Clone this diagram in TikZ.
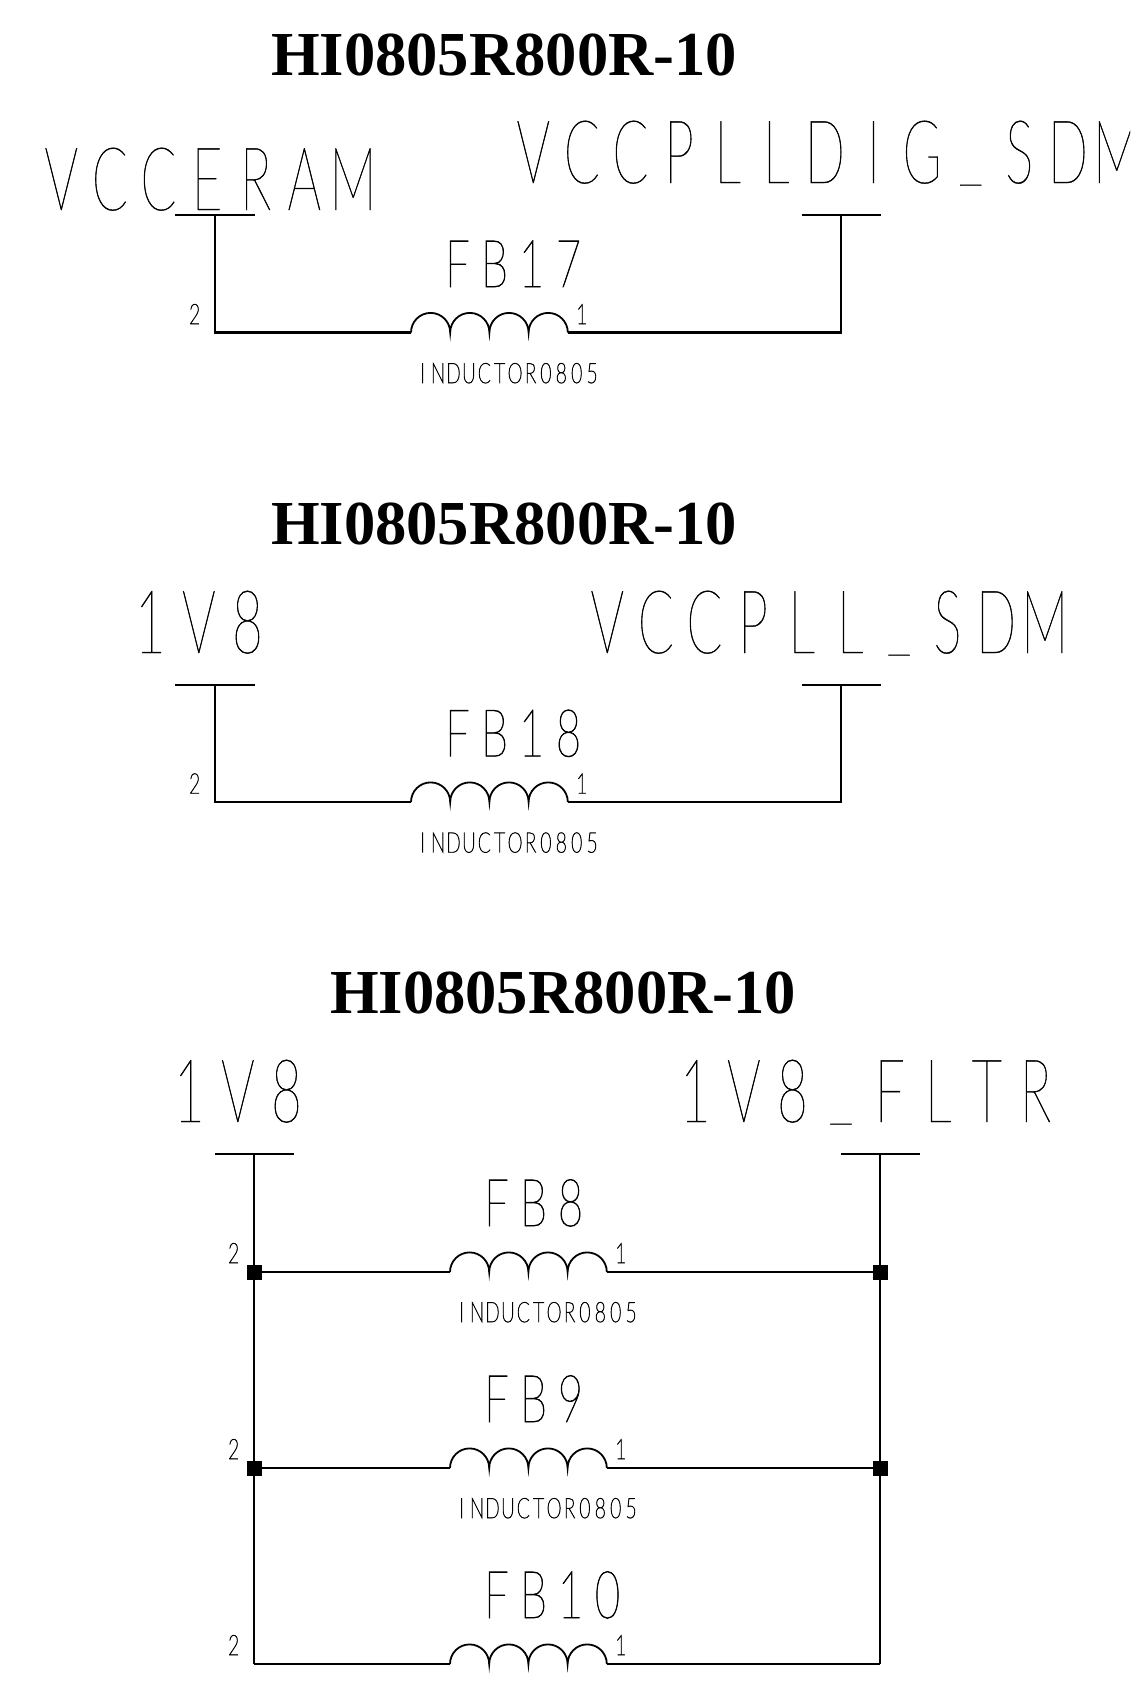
\documentclass[tikz,border=0pt]{standalone}
\usepackage{fontspec}
\setmainfont{Liberation Serif}
\newfontfamily\cadfont{Lato Hairline}[FakeStretch=0.6,FakeBold=0.5]
\newfontfamily\cadmid{Lato Hairline}[FakeStretch=0.66,FakeBold=1]
\newfontfamily\cadsmall{Lato Hairline}[FakeStretch=0.68,FakeBold=2.4]
\makeatletter
\newcommand\cadtxt[4]{{\fontsize{#1}{#1}\selectfont#2\@tfor\cad@c:=#4\do{\hbox to #3pt{\hss\cad@c\hss}}}}
\makeatother
\newcommand\cadus{\raisebox{.1em}{\_}}
\newcommand\biglabel[1]{\cadtxt{88}{\cadfont}{48.6}{#1}}
\newcommand\midlabel[1]{\cadtxt{66}{\cadmid}{37}{#1}}
\newcommand\smalllabel[1]{\cadtxt{28}{\cadsmall}{15.4}{#1}}
\tikzset{
  x=1pt,y=-1pt,
  wire/.style={line width=2.2pt},
  coil/.style={line width=1.8pt},
  lbl/.style={inner sep=0pt,outer sep=0pt,anchor=base west},
  title/.style={lbl,font=\fontsize{62.6}{62.6}\selectfont\bfseries},
  junction/.style={fill=black,draw=none,minimum size=15pt,inner sep=0pt,outer sep=0pt,rectangle},
}
% #1 name, #2 x of coil left end, #3 y
\newcommand\coilbody[3]{%
  \coordinate (#1L) at (#2,#3);
  \coordinate (#1R) at (#2+157,#3);
  \draw[coil] (#1L) arc[start angle=180,end angle=0,x radius=19.6pt,y radius=19.6pt]
    arc[start angle=180,end angle=0,x radius=19.6pt,y radius=19.6pt]
    arc[start angle=180,end angle=0,x radius=19.6pt,y radius=19.6pt]
    arc[start angle=180,end angle=0,x radius=19.6pt,y radius=19.6pt];
}
\begin{document}
\begin{tikzpicture}
\useasboundingbox (0,0) rectangle (1130,1684);
\clip (0,0) rectangle (1130,1684);
% ---------- group 1
\node[title] (t1) at (271,75) {HI0805R800R-10};
\node[lbl] (v1a) at (37,210) {\biglabel{VCCERAM}};
\node[lbl] (v1b) at (509,183) {\biglabel{VCCPLLDIG\cadus SDM}};
\coordinate (b1a) at (175,215); \coordinate (b1b) at (255,215);
\coordinate (b1c) at (802,215); \coordinate (b1d) at (881,215);
\coordinate (p1a) at (215,215); \coordinate (p1b) at (841,215);
\coordinate (c1a) at (215,332.5); \coordinate (c1b) at (841,332.5);
\draw[wire] (b1a) -- (b1b); \draw[wire] (b1c) -- (b1d);
\coilbody{fb17}{411}{332.5}
\draw[wire] (p1a) -- (c1a) -- (fb17L);
\draw[wire] (fb17R) -- (c1b) -- (p1b);
\node[lbl] (fb17n) at (439,287) {\midlabel{FB17}};
\node[lbl] (fb17p) at (415,383) {\smalllabel{INDUCTOR0805}};
\node[lbl] (fb17a) at (187,324) {\smalllabel{2}};
\node[lbl] (fb17b) at (574,324) {\smalllabel{1}};
% ---------- group 2
\node[title] (t2) at (271,544.4) {HI0805R800R-10};
\node[lbl] (v2a) at (126,653) {\biglabel{1V8}};
\node[lbl] (v2b) at (583,653) {\biglabel{VCCPLL\cadus SDM}};
\coordinate (b2a) at (175,684.9); \coordinate (b2b) at (255,684.9);
\coordinate (b2c) at (802,684.9); \coordinate (b2d) at (881,684.9);
\coordinate (p2a) at (215,684.9); \coordinate (p2b) at (841,684.9);
\coordinate (c2a) at (215,802); \coordinate (c2b) at (841,802);
\draw[wire] (b2a) -- (b2b); \draw[wire] (b2c) -- (b2d);
\coilbody{fb18}{411}{802}
\draw[wire] (p2a) -- (c2a) -- (fb18L);
\draw[wire] (fb18R) -- (c2b) -- (p2b);
\node[lbl] (fb18n) at (439,756.4) {\midlabel{FB18}};
\node[lbl] (fb18p) at (415,852.4) {\smalllabel{INDUCTOR0805}};
\node[lbl] (fb18a) at (187,793.4) {\smalllabel{2}};
\node[lbl] (fb18b) at (574,793.4) {\smalllabel{1}};
% ---------- group 3
\node[title] (t3) at (330,1013.8) {HI0805R800R-10};
\node[lbl] (v3a) at (165,1122) {\biglabel{1V8}};
\node[lbl] (v3b) at (671,1122) {\biglabel{1V8\cadus FLTR}};
\coordinate (b3a) at (215,1154); \coordinate (b3b) at (294,1154);
\coordinate (b3c) at (841,1154); \coordinate (b3d) at (920,1154);
\coordinate (p3a) at (254,1154); \coordinate (p3b) at (880,1154);
\coordinate (c3a) at (254,1664); \coordinate (c3b) at (880,1664);
\draw[wire] (b3a) -- (b3b); \draw[wire] (b3c) -- (b3d);
\draw[wire] (p3a) -- (c3a); \draw[wire] (p3b) -- (c3b);
% FB8
\coilbody{fb8}{450}{1272}
\node[junction] (j8a) at (254,1272) {}; \node[junction] (j8b) at (880,1272) {};
\draw[wire] (j8a) -- (fb8L); \draw[wire] (fb8R) -- (j8b);
\node[lbl] (fb8n) at (478,1226) {\midlabel{FB8}};
\node[lbl] (fb8p) at (454,1322) {\smalllabel{INDUCTOR0805}};
\node[lbl] (fb8a) at (226,1263) {\smalllabel{2}};
\node[lbl] (fb8b) at (613,1263) {\smalllabel{1}};
% FB9
\coilbody{fb9}{450}{1468}
\node[junction] (j9a) at (254,1468) {}; \node[junction] (j9b) at (880,1468) {};
\draw[wire] (j9a) -- (fb9L); \draw[wire] (fb9R) -- (j9b);
\node[lbl] (fb9n) at (478,1422) {\midlabel{FB9}};
\node[lbl] (fb9p) at (454,1518) {\smalllabel{INDUCTOR0805}};
\node[lbl] (fb9a) at (226,1459) {\smalllabel{2}};
\node[lbl] (fb9b) at (613,1459) {\smalllabel{1}};
% FB10
\coilbody{fb10}{450}{1664}
\draw[wire] (c3a) -- (fb10L); \draw[wire] (fb10R) -- (c3b);
\node[lbl] (fb10n) at (478,1618) {\midlabel{FB10}};
\node[lbl] (fb10a) at (226,1655) {\smalllabel{2}};
\node[lbl] (fb10b) at (613,1655) {\smalllabel{1}};
\end{tikzpicture}
\end{document}
